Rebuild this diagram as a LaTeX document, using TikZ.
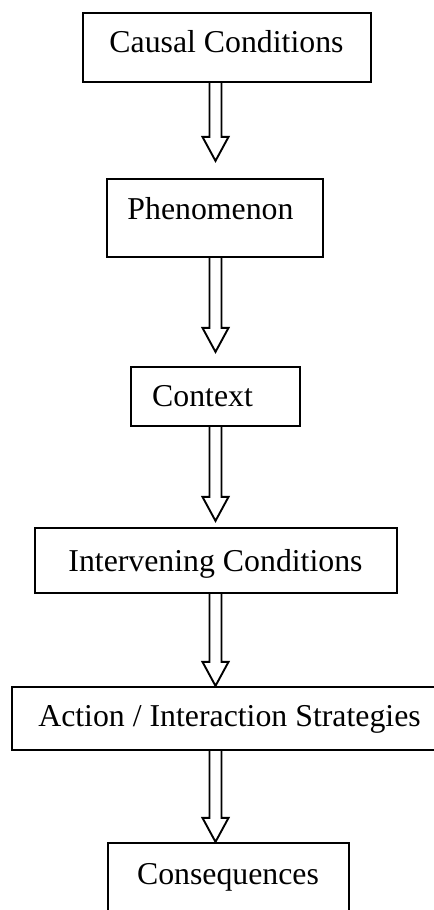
\documentclass[tikz,border=0pt]{standalone}
\usepackage{fontspec}
\setmainfont{Liberation Serif}
\usetikzlibrary{calc}

\tikzset{
  box/.style={draw, line width=2.2bp, rectangle, inner sep=0pt},
  lbl/.style={inner sep=0pt, anchor=base, font=\fontsize{31.8bp}{38bp}\selectfont},
  hollowarrow/.style={draw, line width=1.9bp, line join=miter},
}

% block arrow with an open head: double shaft from the source box,
% triangular head whose tip stops #3 units above the target box
\newcommand\flowarrow[3]{%
  \draw[hollowarrow]
    ($(#1.south -| axis)+(-6,0)$) -- ($(#2.north -| axis)+(-6,#3+24)$)
    -- ++(-7,0) -- ($(#2.north -| axis)+(0,#3)$) -- ++(13,24) -- ++(-7,0)
    -- ($(#1.south -| axis)+(6,0)$);
}

\begin{document}
\begin{tikzpicture}[x=1bp, y=1bp]
  \useasboundingbox (0,0) rectangle (434,910);
  \clip (0,0) rectangle (434,910);
  \fill[white] (0,0) rectangle (434,910);

  \coordinate (axis) at (215.5,0);

  % boxes
  \node[box, minimum width=288bp, minimum height=69bp] (cause)  at (227,862.5) {};
  \node[box, minimum width=216bp, minimum height=78bp] (phen)   at (215,692)   {};
  \node[box, minimum width=169bp, minimum height=59bp] (ctx)    at (215.5,513.5) {};
  \node[box, minimum width=362bp, minimum height=65bp] (interv) at (216,349.5) {};
  \node[box, minimum width=448bp, minimum height=63bp] (action) at (236,191.5) {};
  \node[box, minimum width=241bp, minimum height=87bp] (conseq) at (228.5,23.5) {};

  % labels
  \node[lbl] (tcause)  at (226.5,857) {Causal Conditions};
  \node[lbl] (tphen)   at (210.5,690) {Phenomenon};
  \node[lbl] (tctx)    at (202.5,503) {Context};
  \node[lbl] (tinterv) at (215.5,338) {Intervening Conditions};
  \node[lbl] (taction) at (229.5,183) {Action / Interaction Strategies};
  \node[lbl] (tconseq) at (228,25)    {Consequences};

  % connectors
  \flowarrow{cause}{phen}{17}
  \flowarrow{phen}{ctx}{14}
  \flowarrow{ctx}{interv}{6}
  \flowarrow{interv}{action}{0}
  \flowarrow{action}{conseq}{0}
\end{tikzpicture}
\end{document}
